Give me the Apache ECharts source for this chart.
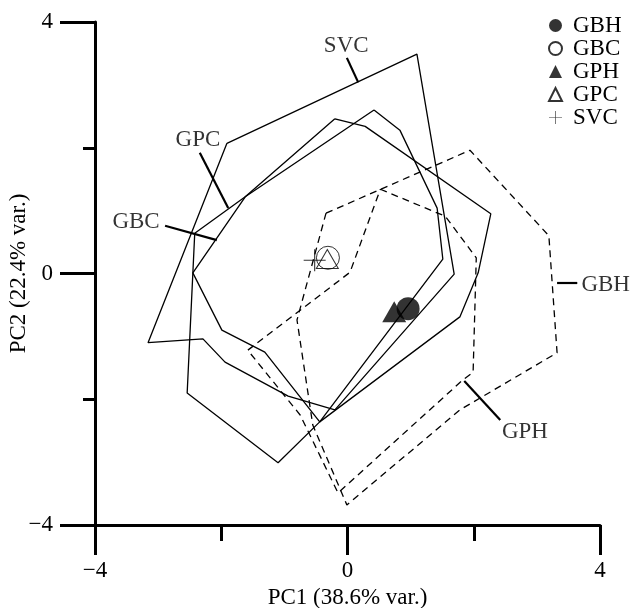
<!DOCTYPE html>
<html><head><meta charset="utf-8">
<script src="https://cdn.jsdelivr.net/npm/echarts/dist/echarts.min.js"></script>
<style>html,body{margin:0;padding:0;background:#fff}#c{width:634px;height:608px}</style>
</head><body><div id="c"></div>
<script>
// ---- data ----
const groups = ['GBH', 'GBC', 'GPH', 'GPC', 'SVC'];
const centroidX = [0.96, -0.31, 0.74, -0.32, -0.52];
const centroidY = [-0.56, 0.25, -0.61, 0.23, 0.21];

const hullSVC = [[-1.91,2.07],[1.10,3.49],[1.69,-0.01],[-0.20,-2.17],[-0.94,-1.95],[-1.94,-1.41],[-2.29,-1.04],[-3.16,-1.10]];
const hullGPC = [[0.42,2.60],[0.83,2.28],[1.42,1.04],[1.51,0.23],[-0.44,-2.36],[-1.10,-3.01],[-2.54,-1.90],[-2.42,0.64],[-1.62,1.22]];
const hullGBC = [[-0.20,2.46],[0.28,2.34],[2.27,0.95],[2.07,0.01],[1.78,-0.69],[-0.44,-2.36],[-1.31,-1.25],[-1.99,-0.90],[-2.45,0.01],[-1.62,1.22]];
const hullGBH = [[-0.34,0.96],[1.94,1.96],[3.19,0.60],[3.32,-1.26],[1.78,-2.17],[-0.01,-3.68],[-0.55,-2.41],[-0.80,-0.74]];
const hullGPH = [[0.52,1.34],[1.55,0.91],[2.04,0.25],[1.99,-1.57],[1.83,-1.69],[-0.15,-3.49],[-0.75,-2.25],[-1.58,-1.22],[0.04,0.02]];

const labelNames = ['SVC', 'GPC', 'GBC', 'GBH', 'GPH'];
const labelX = [-0.02, -2.37, -3.35, 4.09, 2.81];
const labelY = [3.62, 2.12, 0.82, -0.18, -2.52];
const pointerFrom = [[-0.01,3.43],[-2.34,1.92],[-2.89,0.76],[3.64,-0.15],[2.42,-2.33]];
const pointerTo = [[0.17,3.04],[-1.89,1.04],[-2.07,0.53],[3.32,-0.15],[1.85,-1.71]];

const axisMin = -4, axisMax = 4;
const majorStep = 4, minorStep = 2;

// ---- chart ----
const FONT = 'Liberation Serif';
const FS = 23;
const minus = v => String(v).replace('-', '\u2212');
const close = h => h.concat([h[0]]);
const plusPath = 'path://M0,9.5H20V10.5H0Z M9.5,0H10.5V20H9.5Z';

const symbolFor = {
  GBH: { symbol: 'circle', size: 23, style: { color: '#000' } },
  GBC: { symbol: 'circle', size: 23, style: { color: 'rgba(0,0,0,0)', borderColor: '#000', borderWidth: 1 } },
  GPH: { symbol: 'triangle', size: [24, 21], style: { color: '#000' } },
  GPC: { symbol: 'triangle', size: [22, 19], style: { color: 'rgba(0,0,0,0)', borderColor: '#000', borderWidth: 1 } },
  SVC: { symbol: plusPath, size: 22, style: { color: '#000' } }
};

const hulls = [
  ['hull SVC', hullSVC, 'solid'],
  ['hull GPC', hullGPC, 'solid'],
  ['hull GBC', hullGBC, 'solid'],
  ['hull GBH', hullGBH, 'dashed'],
  ['hull GPH', hullGPH, 'dashed']
];

const series = [];
hulls.forEach(([name, h, type]) => {
  series.push({
    name, type: 'line', xAxisIndex: 0, yAxisIndex: 0,
    data: close(h), symbol: 'none', silent: true, clip: false,
    lineStyle: { color: '#000', width: 1.3, type: type === 'dashed' ? [7, 5] : 'solid' },
    z: 2
  });
});
groups.forEach((g, i) => {
  const s = symbolFor[g];
  series.push({
    name: g, type: 'scatter', xAxisIndex: 0, yAxisIndex: 0,
    data: [[centroidX[i], centroidY[i]]],
    symbol: s.symbol, symbolSize: s.size, itemStyle: s.style, z: 5
  });
});
series.push({
  name: 'pointers', type: 'lines', coordinateSystem: 'cartesian2d', xAxisIndex: 0, yAxisIndex: 0,
  data: pointerFrom.map((p, i) => ({ coords: [p, pointerTo[i]] })),
  lineStyle: { color: '#000', width: 2.2, opacity: 1 }, silent: true, z: 4, clip: false
});
series.push({
  name: 'labels', type: 'scatter', xAxisIndex: 0, yAxisIndex: 0, clip: false,
  data: labelNames.map((n, i) => ({ value: [labelX[i], labelY[i]], name: n })),
  symbolSize: 0, silent: true,
  label: { show: true, position: 'inside', formatter: p => p.name, color: '#000', fontFamily: FONT, fontSize: FS }
});

const axisCommon = {
  type: 'value', min: axisMin, max: axisMax, splitLine: { show: false }
};

const option = {
  animation: false,
  backgroundColor: '#fff',
  grid: { left: 95, right: 34, top: 22, bottom: 83, containLabel: false, outerBoundsMode: 'none' },
  legend: {
    data: groups, orient: 'vertical', left: 543, top: 9,
    itemWidth: 13, itemHeight: 13, itemGap: 0, symbolKeepAspect: true,
    textStyle: { fontFamily: FONT, fontSize: FS, color: '#000', lineHeight: 23, padding: [0, 0, 0, 6] },
    selectedMode: false
  },
  xAxis: [
    Object.assign({}, axisCommon, {
      interval: majorStep, position: 'bottom',
      axisLine: { show: true, onZero: false, lineStyle: { color: '#000', width: 3 } },
      axisTick: { show: true, length: 30, lineStyle: { color: '#000', width: 3 } },
      axisLabel: { formatter: minus, color: '#000', fontFamily: FONT, fontSize: FS, margin: 34 },
      name: 'PC1 (38.6% var.)', nameLocation: 'middle', nameGap: 60,
      nameTextStyle: { fontFamily: FONT, fontSize: FS, color: '#000' }
    }),
    Object.assign({}, axisCommon, {
      interval: minorStep, position: 'bottom',
      axisLine: { show: false, onZero: false },
      axisTick: { show: true, length: 16, lineStyle: { color: '#000', width: 3 } },
      axisLabel: { show: false }
    })
  ],
  yAxis: [
    Object.assign({}, axisCommon, {
      interval: majorStep, position: 'left',
      axisLine: { show: true, onZero: false, lineStyle: { color: '#000', width: 3 } },
      axisTick: { show: true, length: 35, lineStyle: { color: '#000', width: 3 } },
      axisLabel: { formatter: minus, color: '#000', fontFamily: FONT, fontSize: FS, margin: 42 },
      name: 'PC2 (22.4% var.)', nameLocation: 'middle', nameGap: 65, nameRotate: 90,
      nameMoveOverlap: false,
      nameTextStyle: { fontFamily: FONT, fontSize: FS, color: '#000' }
    }),
    Object.assign({}, axisCommon, {
      interval: minorStep, position: 'left',
      axisLine: { show: false, onZero: false },
      axisTick: { show: true, length: 12, lineStyle: { color: '#000', width: 3 } },
      axisLabel: { show: false }
    })
  ],
  series
};

const chart = echarts.init(document.getElementById('c'), null, { renderer: 'canvas' });
chart.setOption(option);
</script></body></html>
